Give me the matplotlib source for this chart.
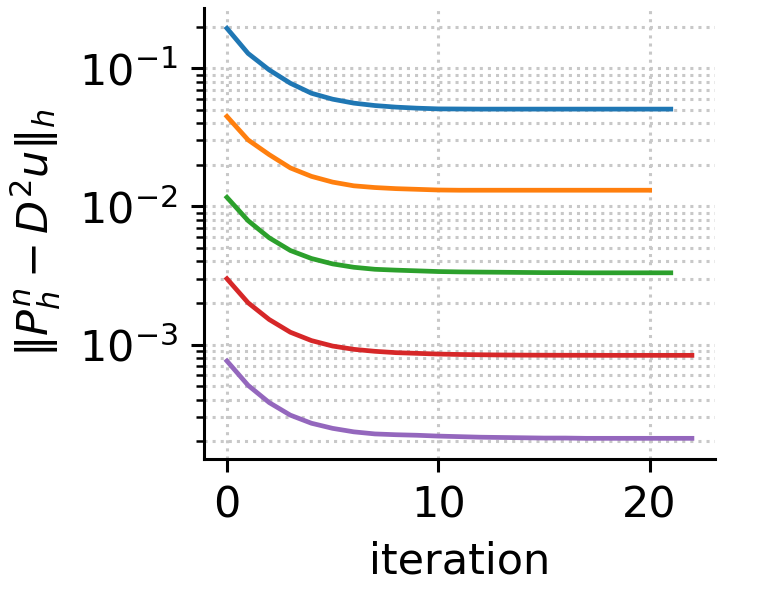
import matplotlib
matplotlib.use("Agg")
import matplotlib.pyplot as plt

blue = [0.1945, 0.128, 0.0972, 0.0779, 0.0659, 0.0597, 0.0559, 0.0537, 0.0523, 0.0514,
        0.0508, 0.0507, 0.0506, 0.0506, 0.0506, 0.0506, 0.0506, 0.0506, 0.0506, 0.0506,
        0.0506, 0.0506]
orange = [0.0448, 0.0303, 0.0237, 0.0190, 0.0165, 0.0150, 0.0141, 0.0137, 0.01345, 0.0133,
          0.01315, 0.0131, 0.0131, 0.0131, 0.0131, 0.0131, 0.0131, 0.0131, 0.0131, 0.0131,
          0.0131]
green = [0.01164, 0.00789, 0.00593, 0.00480, 0.00420, 0.00384, 0.00363, 0.00351, 0.00346,
         0.00342, 0.00338, 0.00336, 0.00335, 0.00334, 0.00333, 0.00332, 0.00332, 0.00331,
         0.00331, 0.00331, 0.00331, 0.00331]
red = [0.00300, 0.00201, 0.00152, 0.00123, 0.00107, 0.000977, 0.000925, 0.000895, 0.000875,
       0.000865, 0.000855, 0.000849, 0.000845, 0.000842, 0.000840, 0.000839, 0.000838,
       0.000838, 0.000837, 0.000837, 0.000837, 0.000837, 0.000837]
purple = [0.000762, 0.000508, 0.000381, 0.000309, 0.000270, 0.000248, 0.000234, 0.000226,
          0.000223, 0.000221, 0.000218, 0.000216, 0.000214, 0.000213, 0.000212, 0.000211,
          0.000211, 0.000210, 0.000210, 0.000210, 0.000210, 0.000210, 0.000210]

series = [blue, orange, green, red, purple]
colors = ["#1f77b4", "#ff7f0e", "#2ca02c", "#d62728", "#9467bd"]

fig = plt.figure(figsize=(7.6, 5.99), dpi=100)
ax = fig.add_axes([0.268, 0.234, 0.673, 0.753])
for s, c in zip(series, colors):
    ax.plot(range(len(s)), s, color=c, lw=3.4)
ax.set_yscale("log")
ax.grid(True, which="both", axis="y", linestyle=":", color="#c8c8c8", lw=2.2)
ax.grid(True, which="major", axis="x", linestyle=":", color="#c8c8c8", lw=2.2)
ax.set_axisbelow(True)
for sp in ["top", "right"]:
    ax.spines[sp].set_visible(False)
for sp in ["left", "bottom"]:
    ax.spines[sp].set_linewidth(2.2)
ax.tick_params(which="major", length=9.6, width=2.2, pad=9, labelsize=31)
ax.tick_params(which="minor", length=5.5, width=1.8)
ax.set_xticks([0, 10, 20])
ax.set_xlabel("iteration", fontsize=31, labelpad=10)
ax.set_ylabel(r"$\|P_h^n - D^2 u\|_h$", fontsize=31, labelpad=12)
fig.savefig("out.png", dpi=100)
